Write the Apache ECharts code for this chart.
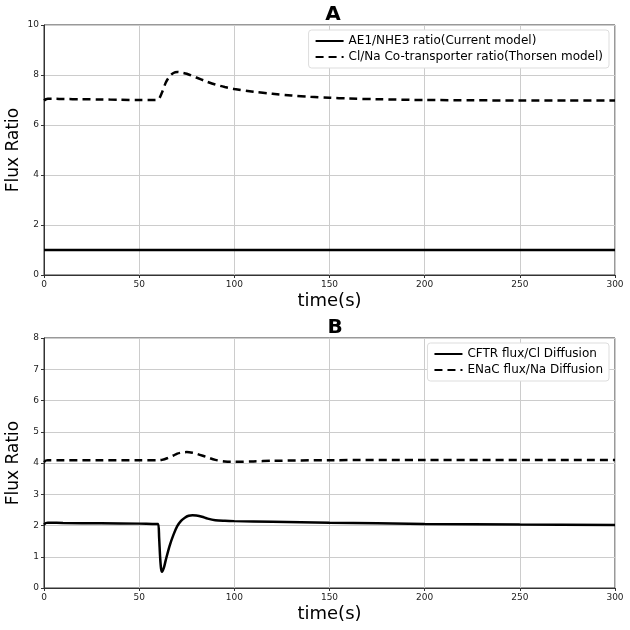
<!DOCTYPE html>
<html>
<head>
<meta charset="utf-8">
<script src="https://cdn.jsdelivr.net/npm/echarts@6/dist/echarts.min.js"></script>
<style>
  html, body { margin: 0; padding: 0; background: #fff; }
  #chart { width: 630px; height: 630px; }
</style>
</head>
<body>
<div id="chart"></div>
<script>
// panel A
var tA_ratio = [0, 300];
var vA_ratio = [1.0, 1.0];
var tA_thorsen = [0, 1, 2, 5, 10, 20, 30, 40, 50, 58, 60, 62, 64, 66, 68, 70, 72, 75, 80, 85, 90, 95, 100, 110, 120, 130, 140, 150, 160, 175, 200, 225, 250, 275, 300];
var vA_thorsen = [6.98, 7.03, 7.05, 7.05, 7.04, 7.03, 7.02, 7.01, 7.0, 7.0, 7.02, 7.3, 7.7, 7.95, 8.08, 8.12, 8.1, 8.05, 7.9, 7.75, 7.62, 7.52, 7.44, 7.33, 7.25, 7.18, 7.13, 7.09, 7.06, 7.03, 7.0, 6.99, 6.98, 6.98, 6.98];

// panel B
var tB_cftr = [0, 1, 2, 10, 30, 50, 59, 60, 60.5, 61, 61.5, 62, 63, 64, 66, 68, 70, 72, 74, 76, 78, 80, 83, 86, 90, 95, 100, 120, 150, 200, 250, 300];
var vB_cftr = [2.03, 2.08, 2.09, 2.08, 2.07, 2.06, 2.05, 2.05, 1.6, 1.0, 0.62, 0.52, 0.65, 0.9, 1.35, 1.7, 1.98, 2.15, 2.25, 2.31, 2.33, 2.32, 2.28, 2.22, 2.17, 2.15, 2.14, 2.12, 2.09, 2.05, 2.03, 2.02];
var tB_enac = [0, 1, 2, 10, 30, 50, 60, 62, 65, 68, 70, 72, 75, 78, 80, 85, 90, 95, 100, 110, 120, 150, 200, 300];
var vB_enac = [4.03, 4.08, 4.09, 4.09, 4.09, 4.09, 4.09, 4.1, 4.16, 4.24, 4.3, 4.33, 4.35, 4.33, 4.3, 4.2, 4.1, 4.05, 4.04, 4.05, 4.07, 4.09, 4.1, 4.1];

var namesA = ["AE1/NHE3 ratio(Current model)", "Cl/Na Co-transporter ratio(Thorsen model)"];
var namesB = ["CFTR flux/Cl Diffusion", "ENaC flux/Na Diffusion"];

function pairs(t, v) {
  return t.map(function (x, i) { return [x, v[i]]; });
}

var font = "DejaVu Sans";

function xAxisOf(idx) {
  return {
    type: "value", gridIndex: idx, min: 0, max: 300, interval: 50,
    name: "time(s)", nameLocation: "middle", nameGap: 17, nameMoveOverlap: false,
    nameTextStyle: { fontFamily: font, fontSize: 18, color: "#000", verticalAlign: "top" },
    axisLine: { show: true, lineStyle: { color: "#333", width: 1 } },
    axisTick: { show: true, length: 3, lineStyle: { color: "#333" } },
    axisLabel: { fontFamily: font, fontSize: 9, color: "#222", margin: 5 },
    splitLine: { show: true, lineStyle: { color: "#cccccc", width: 1 } }
  };
}

function yAxisOf(idx, max, interval) {
  return {
    type: "value", gridIndex: idx, min: 0, max: max, interval: interval,
    name: "Flux Ratio", nameLocation: "middle", nameGap: 22, nameMoveOverlap: false,
    nameTextStyle: { fontFamily: font, fontSize: 17, color: "#000" },
    axisLine: { show: true, lineStyle: { color: "#333", width: 1 } },
    axisTick: { show: true, length: 3, lineStyle: { color: "#333" } },
    axisLabel: { fontFamily: font, fontSize: 9, color: "#222", margin: 5 },
    splitLine: { show: true, lineStyle: { color: "#cccccc", width: 1 } }
  };
}

function lineSeries(name, data, idx, dashed) {
  return {
    type: "line", name: name, xAxisIndex: idx, yAxisIndex: idx,
    data: data, symbol: "none", smooth: 0.3, animation: false,
    lineStyle: { color: "#000", width: 2.5, type: dashed ? [8, 5] : "solid" },
    itemStyle: { color: "#000" }
  };
}

function legendOf(names, top) {
  return {
    data: names, orient: "vertical", right: 21, top: top, itemWidth: 28, itemHeight: 10, itemGap: 4,
    padding: [5, 6, 5, 6], backgroundColor: "#fff", borderColor: "#ddd", borderWidth: 1, borderRadius: 3,
    itemStyle: { opacity: 0 },
    textStyle: { fontFamily: font, fontSize: 12, color: "#000" }
  };
}

var chart = echarts.init(document.getElementById("chart"));
chart.setOption({
  backgroundColor: "#fff",
  animation: false,
  title: [
    { text: "A", left: 328, top: 0, textAlign: "center",
      textStyle: { fontFamily: font, fontSize: 20, fontWeight: "bold", color: "#000" } },
    { text: "B", left: 330, top: 313, textAlign: "center",
      textStyle: { fontFamily: font, fontSize: 20, fontWeight: "bold", color: "#000" } }
  ],
  grid: [
    { left: 44, right: 15, top: 25, height: 250, outerBoundsMode: "none", show: true, borderColor: "#333", borderWidth: 1, backgroundColor: "transparent" },
    { left: 44, right: 15, top: 338, height: 250, outerBoundsMode: "none", show: true, borderColor: "#333", borderWidth: 1, backgroundColor: "transparent" }
  ],
  legend: [legendOf(namesA, 30), legendOf(namesB, 343)],
  xAxis: [xAxisOf(0), xAxisOf(1)],
  yAxis: [yAxisOf(0, 10, 2), yAxisOf(1, 8, 1)],
  series: [
    lineSeries(namesA[0], pairs(tA_ratio, vA_ratio), 0, false),
    lineSeries(namesA[1], pairs(tA_thorsen, vA_thorsen), 0, true),
    lineSeries(namesB[0], pairs(tB_cftr, vB_cftr), 1, false),
    lineSeries(namesB[1], pairs(tB_enac, vB_enac), 1, true)
  ]
});
</script>
</body>
</html>
